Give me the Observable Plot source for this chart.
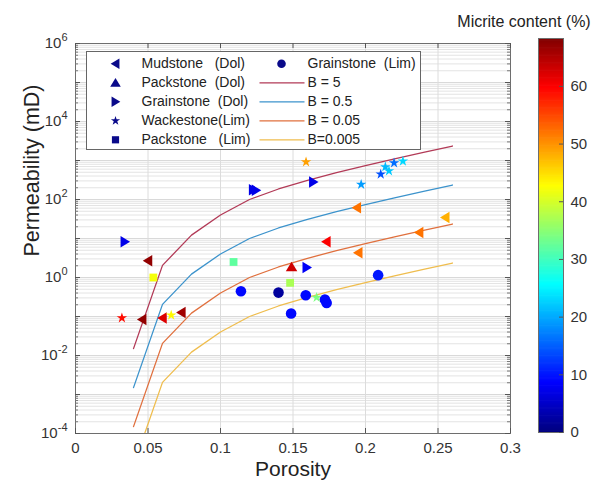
<!DOCTYPE html>
<html><head><meta charset="utf-8">
<script src="https://cdn.jsdelivr.net/npm/d3@7"></script>
<script src="https://cdn.jsdelivr.net/npm/@observablehq/plot@0.6"></script>
<style>
body{margin:0;background:#fff;}
#wrap{position:relative;width:595px;height:487px;overflow:hidden;}
#wrap svg{position:absolute;overflow:visible;white-space:pre;}
</style></head><body><div id="wrap"></div>
<script>
// ---------- data ----------
const xTicks = [0, 0.05, 0.1, 0.15, 0.2, 0.25, 0.3];
const xTickLabels = ["0", "0.05", "0.1", "0.15", "0.2", "0.25", "0.3"];
const yLabelTicks = [1e-4, 1e-2, 1, 1e2, 1e4, 1e6];
const yLabelExps = ["-4", "-2", "0", "2", "4", "6"];
const yDecades = [1e-4, 1e-3, 1e-2, 1e-1, 1, 1e1, 1e2, 1e3, 1e4, 1e5, 1e6];
const cbTicks = [0, 10, 20, 30, 40, 50, 60];
const micriteMax = 68.3;

// model curves (porosity vs permeability)
const curvePhi = [0.04, 0.06, 0.08, 0.10, 0.12, 0.14, 0.16, 0.18, 0.20, 0.22, 0.24, 0.26];
const permB5 = [0.015, 2.05, 12.2, 40, 100, 186, 310, 490, 740, 1100, 1620, 2350];
const permB05 = [0.0015, 0.205, 1.22, 4.0, 10, 18.6, 31, 49, 74, 110, 162, 235];
const permB005 = [0.00015, 0.0205, 0.122, 0.40, 1.0, 1.86, 3.1, 4.9, 7.4, 11, 16.2, 23.5];
const permB0005 = [0.000015, 0.00205, 0.0122, 0.040, 0.10, 0.186, 0.31, 0.49, 0.74, 1.1, 1.62, 2.35];

// samples
const mudDolPhi = [0.050, 0.046, 0.060, 0.073, 0.194, 0.255, 0.237, 0.173, 0.195];
const mudDolK   = [2.67, 0.084, 0.092, 0.127, 61, 34.5, 14.3, 8.2, 4.3];
const mudDolMic = [67, 67, 62, 66, 52, 48, 52, 60, 52];

const packDolPhi = [0.149];
const packDolK   = [1.87];
const packDolMic = [63];

const grainDolPhi = [0.034, 0.1225, 0.1245, 0.164, 0.1595];
const grainDolK   = [8.2, 178, 172, 280, 1.8];
const grainDolMic = [7, 7, 7, 7, 8];

const wackLimPhi = [0.032, 0.066, 0.159, 0.197, 0.2105, 0.2137, 0.2162, 0.2197, 0.2258, 0.1663];
const wackLimK   = [0.092, 0.108, 920, 243, 446, 686, 540, 867, 960, 0.307];
const wackLimMic = [59, 43, 49, 19, 14, 21, 22, 16, 23, 34];

const packLimPhi = [0.0537, 0.109, 0.148];
const packLimK   = [1.0, 2.5, 0.73];
const packLimMic = [42, 32, 37];

const grainLimPhi = [0.1141, 0.140, 0.1588, 0.172, 0.1732, 0.1487, 0.2087];
const grainLimK   = [0.446, 0.41, 0.35, 0.273, 0.223, 0.119, 1.15];
const grainLimMic = [9, 2, 9, 9, 9, 9, 10];

const legendLabels = ["Mudstone   (Dol)", "Packstone  (Dol)", "Grainstone  (Dol)", "Wackestone(Lim)", "Packstone   (Lim)",
                      "Grainstone  (Lim)", "B = 5", "B = 0.5", "B = 0.05", "B=0.005"];
const xLabel = "Porosity";
const yLabel = "Permeability (mD)";
const cbTitle = "Micrite content (%)";

// ---------- styles ----------
const FONT = "Arial, 'Liberation Sans', Helvetica, sans-serif";
const jet = ["#00007f", "#0000ff", "#007fff", "#00ffff", "#7fff7f", "#ffff00", "#ff7f00", "#ff0000", "#7f0000"];
const colorScale = {type: "linear", domain: jet.map((_, i) => i * micriteMax / 8), range: jet, clamp: true};
const curveColors = ["#b23a57", "#3c93cc", "#e0703e", "#efbd4e"];
const legendNavy = "#0a0a8a";

const sz = size => Math.sqrt(size / Math.PI);
const triLeft = {draw(c, size) {const s = sz(size); c.moveTo(-s * 1.05, 0); c.lineTo(s * 0.85, -s * 1.15); c.lineTo(s * 0.85, s * 1.15); c.closePath();}};
const triRight = {draw(c, size) {const s = sz(size); c.moveTo(s * 1.05, 0); c.lineTo(-s * 0.85, -s * 1.15); c.lineTo(-s * 0.85, s * 1.15); c.closePath();}};
const triUp = {draw(c, size) {const s = sz(size); c.moveTo(0, -s * 1.05); c.lineTo(s * 1.15, s * 0.85); c.lineTo(-s * 1.15, s * 0.85); c.closePath();}};
const square = {draw(c, size) {const s = sz(size) * 0.78; c.rect(-s, -s, 2 * s, 2 * s);}};
const circle = {draw(c, size) {const s = sz(size); c.moveTo(s, 0); c.arc(0, 0, s, 0, 2 * Math.PI);}};
const star = d3.symbolStar;
const hline = {draw(c) {c.moveTo(-22, 0); c.lineTo(23, 0);}};

const pts = (phi, k, mic) => phi.map((p, i) => ({phi: p, k: k[i], mic: mic[i]}));
const curve = (k) => curvePhi.map((p, i) => ({phi: p, k: k[i]}));

const W = 595, H = 487, mL = 75, mR = 85, mT = 43, mB = 54;
const fw = W - mL - mR, fh = H - mT - mB;

const yMinor = [];
for (let e = -4; e < 6; e++) for (let m = 2; m <= 9; m++) yMinor.push(m * Math.pow(10, e));

const baseStyle = {fontFamily: FONT, fontSize: "15px", background: "transparent", overflow: "visible", color: "#262626"};

const groups = [
  {data: pts(mudDolPhi, mudDolK, mudDolMic), symbol: triLeft, r: 5},
  {data: pts(packDolPhi, packDolK, packDolMic), symbol: triUp, r: 5},
  {data: pts(grainDolPhi, grainDolK, grainDolMic), symbol: triRight, r: 5},
  {data: pts(packLimPhi, packLimK, packLimMic), symbol: square, r: 5},
  {data: pts(grainLimPhi, grainLimK, grainLimMic), symbol: circle, r: 5.3},
  {data: pts(wackLimPhi, wackLimK, wackLimMic), symbol: star, r: 3.3}
];
const curves = [permB5, permB05, permB005, permB0005];

const main = Plot.plot({
  width: W, height: H, marginLeft: mL, marginRight: mR, marginTop: mT, marginBottom: mB,
  x: {domain: [0, 0.3]},
  y: {type: "log", domain: [1e-4, 1e6]},
  color: colorScale,
  style: {...baseStyle, background: "white"},
  marks: [
    Plot.ruleY(yMinor, {stroke: "#e0e0e0", strokeWidth: 0.9}),
    Plot.ruleY(yDecades, {stroke: "#d9d9d9"}),
    Plot.ruleX(xTicks, {stroke: "#dcdcdc"}),
    ...curves.map((k, i) => Plot.line(curve(k), {x: "phi", y: "k", stroke: curveColors[i], strokeWidth: 1.3, clip: true})),
    ...groups.map(g => Plot.dot(g.data, {x: "phi", y: "k", fill: "mic", stroke: "none", symbol: g.symbol, r: g.r})),
    Plot.frame({stroke: "#6e6e6e"}),
    Plot.tickY(yDecades, {insetRight: fw - 5, stroke: "#555"}),
    Plot.tickY(yMinor, {insetRight: fw - 3, stroke: "#777"}),
    Plot.tickY(yDecades, {insetLeft: fw - 5, stroke: "#555"}),
    Plot.tickY(yMinor, {insetLeft: fw - 3, stroke: "#777"}),
    Plot.tickX(xTicks, {insetTop: fh - 5, stroke: "#555"}),
    Plot.tickX(xTicks, {insetBottom: fh - 5, stroke: "#555"}),
    Plot.axisX({ticks: xTicks, tickSize: 0, tickPadding: 9, tickFormat: d => xTickLabels[xTicks.indexOf(d)], fontSize: 15, fill: "#333", label: null}),
    Plot.axisY({ticks: yLabelTicks, tickSize: 0, tickPadding: 8, tickFormat: d => "10^" + yLabelExps[yLabelTicks.indexOf(d)], fontSize: 15, fill: "#333", label: null}),
    Plot.text([xLabel], {text: d => d, frameAnchor: "bottom", dy: 42, fontSize: 21, fill: "#222"}),
    Plot.text([yLabel], {text: d => d, frameAnchor: "left", rotate: -90, dx: -43, dy: 18, fontSize: 21.5, fill: "#222"})
  ]
});
main.style.left = "0px"; main.style.top = "0px";
// superscript exponents for the log axis labels
main.querySelectorAll("text").forEach(t => {
  const s = t.textContent;
  if (s.startsWith("10^") && t.children.length === 0) {
    const exp = s.slice(3);
    t.textContent = "";
    const base = document.createElementNS("http://www.w3.org/2000/svg", "tspan");
    base.textContent = "10";
    const sup = document.createElementNS("http://www.w3.org/2000/svg", "tspan");
    sup.textContent = exp;
    sup.setAttribute("dy", "-7");
    sup.setAttribute("font-size", "11");
    t.appendChild(base); t.appendChild(sup);
  }
});

// ---------- colorbar ----------
const cbStep = 0.2;
const cbBands = d3.range(0, micriteMax, cbStep);
const cb = Plot.plot({
  width: 155, height: H, marginLeft: 98, marginRight: 32, marginTop: 38, marginBottom: 55,
  x: {domain: [0, 1], axis: null},
  y: {domain: [0, micriteMax]},
  color: colorScale,
  style: baseStyle,
  marks: [
    Plot.rect(cbBands, {y1: d => d, y2: d => Math.min(d + cbStep * 1.6, micriteMax), fill: d => d + cbStep / 2}),
    Plot.frame({stroke: "#6e6e6e"}),
    Plot.tickY(cbTicks, {insetLeft: 21, stroke: "#555"}),
    Plot.axisY({ticks: cbTicks, anchor: "right", tickSize: 0, tickPadding: 7, fontSize: 15, fill: "#333", label: null}),
    Plot.text([cbTitle], {text: d => d, frameAnchor: "top", dx: -27, dy: -23, fontSize: 16, fill: "#222"})
  ]
});
cb.style.left = "440px"; cb.style.top = "0px";

// ---------- legend ----------
const legendSymbols = [triLeft, triUp, triRight, star, square, circle];
const legendEntries = legendLabels.map((label, i) => ({label, col: i < 5 ? 0 : 1, row: i < 5 ? i : i - 5}));
const legendMarks = [Plot.frame({fill: "white", stroke: "#666"})];
legendSymbols.forEach((s, i) => {
  legendMarks.push(Plot.dot([legendEntries[i]], {x: "col", y: "row", symbol: s, r: s === star ? 2.9 : s === circle ? 4.3 : 4.6, fill: legendNavy, stroke: "none"}));
});
curveColors.forEach((c, i) => {
  legendMarks.push(Plot.dot([legendEntries[6 + i]], {x: "col", y: "row", symbol: hline, r: 1, fill: "none", stroke: c, strokeWidth: 1.3}));
});
legendMarks.push(Plot.text(legendEntries, {x: "col", y: "row", text: "label", dx: 26, textAnchor: "start", fontSize: 14, fill: "#222"}));
const leg = Plot.plot({
  width: 334, height: 98, margin: 0,
  x: {domain: [0, 1], range: [29, 195], axis: null},
  y: {domain: [0, 4], range: [12.3, 88.3], axis: null},
  style: baseStyle,
  marks: legendMarks
});
leg.style.left = "86px"; leg.style.top = "51px";

const wrap = document.getElementById("wrap");
wrap.appendChild(main);
wrap.appendChild(cb);
wrap.appendChild(leg);
</script>
</body></html>
